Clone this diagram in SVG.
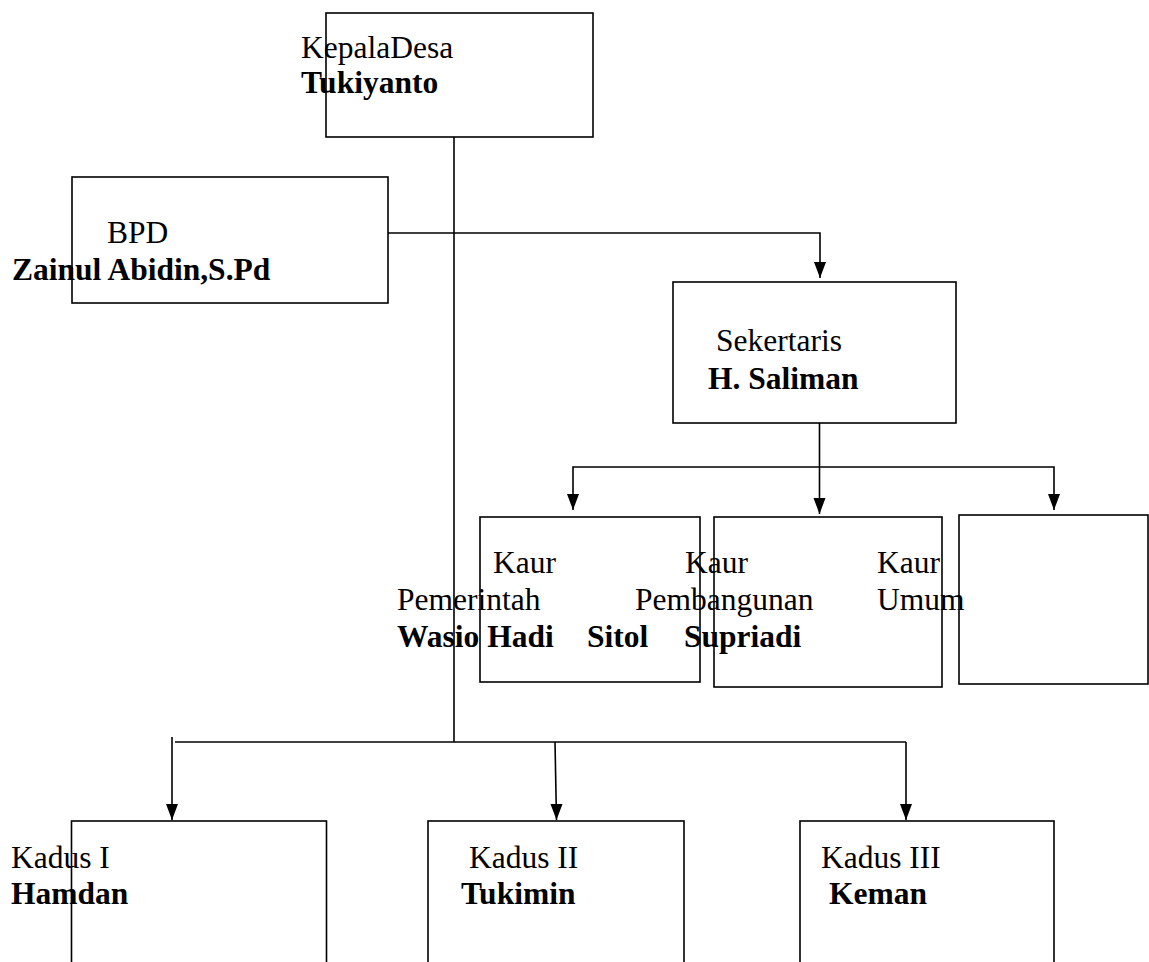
<svg xmlns="http://www.w3.org/2000/svg" width="1149" height="962" viewBox="0 0 1149 962">
<style>
.box{fill:#fff;stroke:#000;stroke-width:1.6}
.ln{fill:none;stroke:#000;stroke-width:1.6}
text{font-family:"Liberation Serif","Times New Roman",serif;font-size:31.5px;fill:#000}
.b{font-weight:bold}
</style>
<defs>
<marker id="arr" markerUnits="userSpaceOnUse" markerWidth="12" markerHeight="16" viewBox="0 0 12 16" refX="6" refY="16" orient="auto-start-reverse">
<path d="M0,0 L12,0 L6,16 Z" fill="#000" transform="rotate(0)"/>
</marker>
</defs>
<rect width="1149" height="962" fill="#fff"/>
<g id="connectors">
<line class="ln" x1="454" y1="137" x2="454" y2="742"/>
<polyline class="ln" points="388,233 820,233 820,278"/>
<path d="M814,262 L826,262 L820,278 Z"/>
<line class="ln" x1="819.5" y1="423" x2="819.5" y2="514"/>
<path d="M813.5,498 L825.5,498 L819.5,514 Z"/>
<polyline class="ln" points="573,510 573,467 1054,467 1054,510"/>
<path d="M567,494 L579,494 L573,510 Z"/>
<path d="M1048,494 L1060,494 L1054,510 Z"/>
<line class="ln" x1="175" y1="742" x2="906" y2="742"/>
<line class="ln" x1="172" y1="737" x2="172" y2="820"/>
<path d="M166,804 L178,804 L172,820 Z"/>
<line class="ln" x1="555" y1="742" x2="556.5" y2="820"/>
<path d="M550.5,804 L562.5,804 L556.5,820 Z"/>
<line class="ln" x1="906" y1="742" x2="906" y2="820"/>
<path d="M900,804 L912,804 L906,820 Z"/>
</g>
<g id="kepala-desa">
<rect class="box" x="326" y="13" width="267" height="124"/>
<text x="301" y="58">KepalaDesa</text>
<text class="b" x="301" y="93">Tukiyanto</text>
</g>
<g id="bpd">
<rect class="box" x="72" y="177" width="316" height="126"/>
<text x="107" y="243">BPD</text>
<text class="b" x="12" y="280">Zainul Abidin,S.Pd</text>
</g>
<g id="sekertaris">
<rect class="box" x="673" y="282" width="283" height="141"/>
<text x="716" y="351">Sekertaris</text>
<text class="b" x="708" y="389">H. Saliman</text>
</g>
<g id="kaur-pemerintah">
<rect class="box" x="480" y="517" width="220" height="165"/>
</g>
<g id="kaur-pembangunan">
<rect class="box" x="714" y="517" width="228" height="170"/>
</g>
<g id="kaur-umum">
<rect class="box" x="959" y="515" width="189" height="169"/>
</g>
<g id="kaur-texts">
<text x="493" y="573">Kaur</text>
<text x="685" y="573">Kaur</text>
<text x="877" y="573">Kaur</text>
<text x="397" y="610">Pemerintah</text>
<text x="635" y="610">Pembangunan</text>
<text x="877" y="610">Umum</text>
<text class="b" x="397" y="647">Wasio Hadi</text>
<text class="b" x="587" y="647">Sitol</text>
<text class="b" x="684" y="647">Supriadi</text>
</g>
<g id="kadus-1">
<rect class="box" x="71.5" y="821" width="255" height="160"/>
<text x="11" y="868">Kadus I</text>
<text class="b" x="11" y="904">Hamdan</text>
</g>
<g id="kadus-2">
<rect class="box" x="428" y="821" width="256" height="160"/>
<text x="469" y="868">Kadus II</text>
<text class="b" x="461" y="904">Tukimin</text>
</g>
<g id="kadus-3">
<rect class="box" x="800" y="821" width="254" height="160"/>
<text x="821" y="868">Kadus III</text>
<text class="b" x="829" y="904">Keman</text>
</g>
</svg>
